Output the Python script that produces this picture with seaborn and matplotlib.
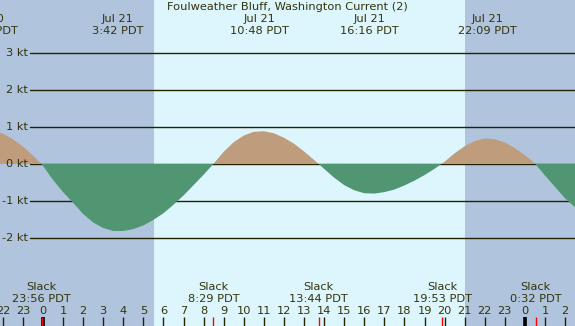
import matplotlib
matplotlib.use("Agg")
import matplotlib.pyplot as plt
import matplotlib.transforms as mtransforms
import numpy as np
import seaborn as sns

# ---- data (hours from midnight Jul 21 PDT, current speed in knots) ----
hours = [-2.5, -2.0, -1.5, -1.0, -0.5, 0.0, 0.5, 1.0, 1.5, 2.0, 2.5, 3.0, 3.5, 4.0,
         4.5, 5.0, 5.5, 6.0, 6.5, 7.0, 7.5, 8.0, 8.5, 9.0, 9.5, 10.0, 10.5, 11.0,
         11.5, 12.0, 12.5, 13.0, 13.5, 14.0, 14.5, 15.0, 15.5, 16.0, 16.5, 17.0,
         17.5, 18.0, 18.5, 19.0, 19.5, 20.0, 20.5, 21.0, 21.5, 22.0, 22.5, 23.0,
         23.5, 24.0, 24.5, 25.0, 25.5, 26.0, 26.5, 27.0]
speed = [0.89, 0.82, 0.67, 0.47, 0.23, -0.05, -0.43, -0.76, -1.05, -1.35, -1.58,
         -1.73, -1.81, -1.81, -1.76, -1.66, -1.51, -1.33, -1.10, -0.85, -0.57,
         -0.29, 0.01, 0.33, 0.59, 0.77, 0.87, 0.885, 0.83, 0.71, 0.55, 0.34, 0.11,
         -0.13, -0.37, -0.57, -0.71, -0.79, -0.80, -0.76, -0.69, -0.58, -0.45,
         -0.30, -0.13, 0.06, 0.29, 0.48, 0.62, 0.69, 0.67, 0.58, 0.43, 0.24, 0.01,
         -0.31, -0.62, -0.93, -1.17, -1.38]

max_times = [-2.717, 3.70, 10.80, 16.267, 22.15]
max_days = ["Jul 20", "Jul 21", "Jul 21", "Jul 21", "Jul 21"]
max_labels = ["21:17 PDT", "3:42 PDT", "10:48 PDT", "16:16 PDT", "22:09 PDT"]

slack_times = [-0.067, 8.483, 13.733, 19.883, 24.533]
slack_labels = ["23:56 PDT", "8:29 PDT", "13:44 PDT", "19:53 PDT", "0:32 PDT"]

sunrise = 5.53
sunset = 21.02

kt_levels = [3, 2, 1, 0, -1, -2]
kt_labels = ["3 kt", "2 kt", "1 kt", "0 kt", "-1 kt", "-2 kt"]

hour_ticks = list(range(-2, 27))
hour_labels = [str(h % 24) for h in hour_ticks]
midnights = [0, 24]

title = "Foulweather Bluff, Washington Current (2)"

# ---- style ----
sns.set_style("white")
plt.rcParams["font.family"] = ["DejaVu Sans"]
TXT = "#33330a"
LINE = "#222200"
DAY = "#ddf6fe"
NIGHT = "#b0c4de"
FLOOD = "#be9c7c"
EBB = "#509673"
FS = 8.2

W, H = 575, 326
fig = plt.figure(figsize=(W / 100, H / 100), dpi=100)
ax = fig.add_axes([0, 0, 1, 1])
xmin, xmax = -2.141, 26.494
ax.set_xlim(xmin, xmax)
ax.set_ylim(-4.378, 4.432)
ax.set_facecolor(DAY)
for s in ax.spines.values():
    s.set_visible(False)

ax.axvspan(xmin - 1, sunrise, color=NIGHT, lw=0, zorder=0)
ax.axvspan(sunset, xmax + 1, color=NIGHT, lw=0, zorder=0)

for lv in kt_levels:
    ax.axhline(lv, xmin=30 / W, xmax=1, color=LINE, lw=1.0, zorder=1)

hr = np.array(hours)
sp = np.array(speed)
sns.lineplot(x=hr, y=sp, ax=ax, lw=0, color=EBB, zorder=2)
ax.fill_between(hr, sp, 0, where=sp >= 0, interpolate=True, color=FLOOD, lw=0, zorder=3)
ax.fill_between(hr, sp, 0, where=sp <= 0, interpolate=True, color=EBB, lw=0, zorder=3)

ax.set_xticks([])
ax.set_yticks([])
ax.set_xlabel("")
ax.set_ylabel("")

bt = mtransforms.blended_transform_factory(ax.transData, ax.transAxes)
bt2 = mtransforms.blended_transform_factory(ax.transAxes, ax.transData)


def fy(px):
    return 1 - px / H


for lv, lb in zip(kt_levels, kt_labels):
    ax.text(28 / W, lv, lb, transform=bt2, ha="right", va="center",
            fontsize=FS, color=TXT, zorder=5)

ax.text(0.5, fy(7.5), title, transform=ax.transAxes, ha="center", va="center",
        fontsize=FS, color=TXT, zorder=5)

for t, d, lb in zip(max_times, max_days, max_labels):
    ax.text(t, fy(19.5), d, transform=bt, ha="center", va="center",
            fontsize=FS, color=TXT, zorder=5)
    ax.text(t, fy(31.5), lb, transform=bt, ha="center", va="center",
            fontsize=FS, color=TXT, zorder=5)

for t, lb in zip(slack_times, slack_labels):
    ax.text(t, fy(287.5), "Slack", transform=bt, ha="center", va="center",
            fontsize=FS, color=TXT, zorder=5)
    ax.text(t, fy(299.5), lb, transform=bt, ha="center", va="center",
            fontsize=FS, color=TXT, zorder=5)

for h, lb in zip(hour_ticks, hour_labels):
    ax.text(h, fy(311.5), lb, transform=bt, ha="center", va="center",
            fontsize=FS, color=TXT, zorder=5)
    ax.plot([h, h], [fy(317), 0], transform=bt, color=LINE, lw=1.0,
            solid_capstyle="butt", zorder=5, clip_on=False)

for h in midnights:
    ax.plot([h, h], [fy(317), 0], transform=bt, color="black", lw=2.6,
            solid_capstyle="butt", zorder=6, clip_on=False)

for t in slack_times:
    ax.plot([t, t], [fy(317), 0], transform=bt, color="red", lw=1.0,
            solid_capstyle="butt", zorder=7, clip_on=False)

fig.savefig("out.png", dpi=100)
